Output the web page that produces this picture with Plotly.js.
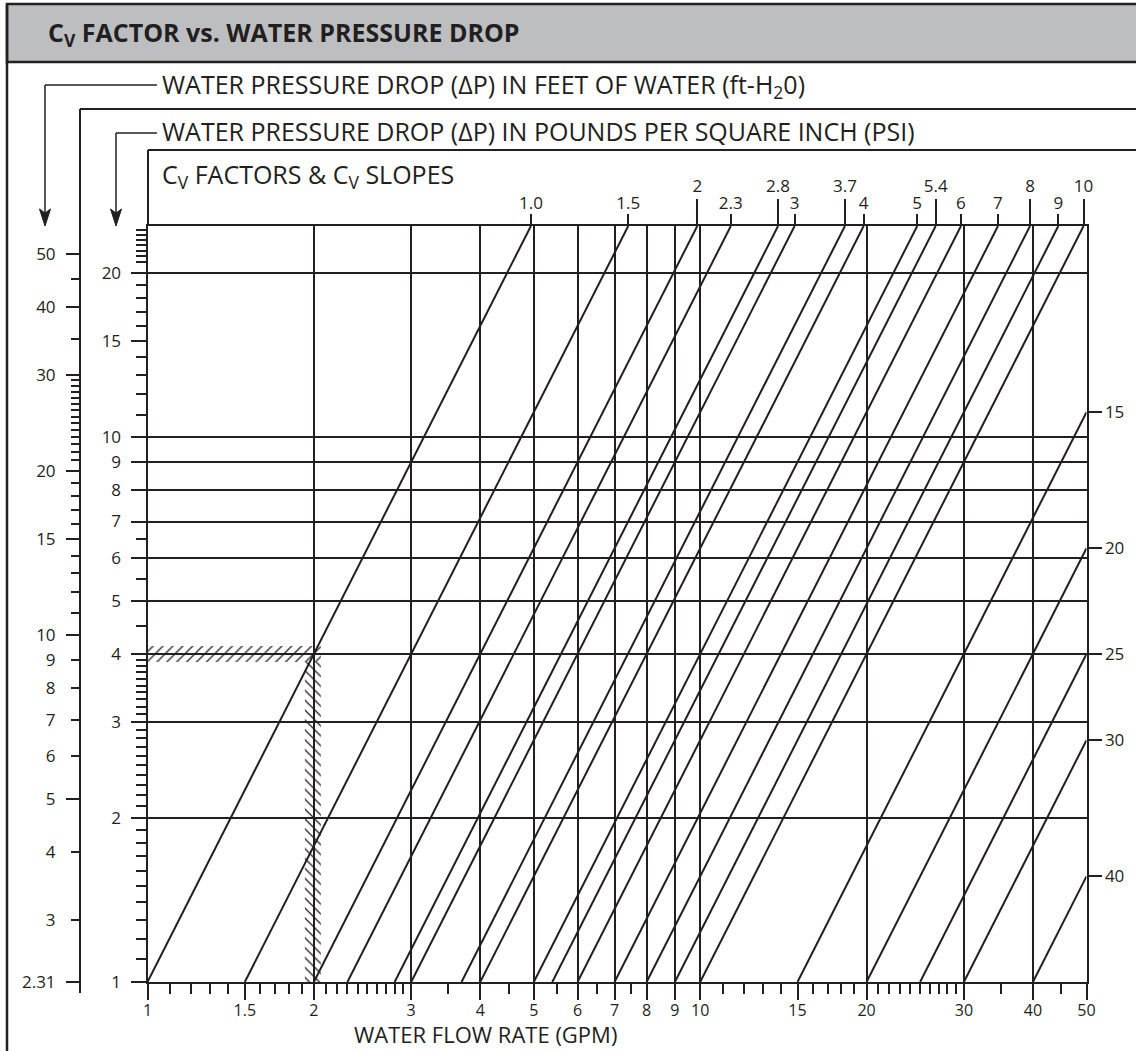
<!DOCTYPE html>
<html>
<head>
<meta charset="utf-8">
<script src="https://cdn.plot.ly/plotly-3.0.1.min.js"></script>
<style>html,body{margin:0;padding:0;background:#fff;}#chart{width:1136px;height:1051px;}</style>
</head>
<body>
<div id="chart"></div>
<script>
// ---------- data ----------
const cvValues = [1.0, 1.5, 2, 2.3, 2.8, 3, 3.7, 4, 5, 5.4, 6, 7, 8, 9, 10, 15, 20, 25, 30, 40];
const cvTopUpper = [2, 2.8, 3.7, 5.4, 8, 10];
const cvTopUpperText = ['2', '2.8', '3.7', '5.4', '8', '10'];
const cvTopLower = [1.0, 1.5, 2.3, 3, 4, 5, 6, 7, 9];
const cvTopLowerText = ['1.0', '1.5', '2.3', '3', '4', '5', '6', '7', '9'];
const cvRight = [15, 20, 25, 30, 40];
const cvRightText = ['15', '20', '25', '30', '40'];

const flowMin = 1, flowMax = 50;           // GPM
const psiMin = 1, psiMax = 24.4;           // PSI
const ftPerPsi = 2.31;

const flowTickVals = [1, 1.5, 2, 3, 4, 5, 6, 7, 8, 9, 10, 15, 20, 30, 40, 50];
const flowTickText = ['1', '1.5', '2', '3', '4', '5', '6', '7', '8', '9', '10', '15', '20', '30', '40', '50'];
const flowMinorVals = [1.1, 1.2, 1.3, 1.4, 1.6, 1.7, 1.8, 1.9, 2.1, 2.2, 2.3, 2.4, 2.5, 2.6, 2.7, 2.8, 2.9,
  3.5, 4.5, 5.5, 6.5, 7.5, 11, 12, 13, 14, 16, 17, 18, 19, 21, 22, 23, 24, 25, 26, 27, 28, 29, 35, 45];
const flowGridVals = [2, 3, 4, 5, 6, 7, 8, 9, 10, 20, 30, 40];

const psiTickVals = [1, 2, 3, 4, 5, 6, 7, 8, 9, 10, 15, 20];
const psiTickText = ['1', '2', '3', '4', '5', '6', '7', '8', '9', '10', '15', '20'];
const psiMinorVals = [1.1, 1.2, 1.3, 1.4, 1.5, 1.6, 1.7, 1.8, 1.9, 2.1, 2.2, 2.3, 2.4, 2.5, 2.6, 2.7, 2.8, 2.9,
  3.1, 3.2, 3.3, 3.4, 3.5, 3.6, 3.7, 3.8, 3.9, 4.5, 5.5, 6.5, 11, 12, 13, 14, 16, 17, 18, 19,
  21, 21.5, 22, 22.5, 23, 23.5, 24];
const psiGridVals = [2, 3, 4, 5, 6, 7, 8, 9, 10, 20];

const ftTickVals = [2.31, 3, 4, 5, 6, 7, 8, 9, 10, 15, 20, 30, 40, 50];
const ftTickText = ['2.31', '3', '4', '5', '6', '7', '8', '9', '10', '15', '20', '30', '40', '50'];
const ftLongVals = [2.31, 5, 10, 15, 20, 30, 40, 50];
const ftMinorVals = [11, 12, 13, 14, 16, 17, 18, 19, 21, 21.7, 22.4, 23.1, 23.8, 24.5, 25.2, 25.9,
  26.6, 27.3, 28, 28.7, 29.4, 35, 45];

const exampleFlow = 2;   // GPM (hatched example)
const examplePsi = 4;    // PSI

// ---------- geometry helpers ----------
const W = 1136, H = 1051;
const px = x => x / W;
const py = y => 1 - y / H;
const INK = '#231f20';
const FONT = 'Open Sans, Noto Sans, sans-serif';
const L10 = Math.log10;

const plotL = 147.5, plotR = 1086.5, plotT = 226, plotB = 982;
const xDomain = [px(plotL), px(plotR)];
const yDomain = [py(plotB), py(plotT)];
const xRange = [L10(flowMin), L10(flowMax)];
const yRange = [L10(psiMin), L10(psiMax)];
const ftRange = [L10(psiMin * ftPerPsi), L10(psiMax * ftPerPsi)];

// ---------- traces ----------
const lx = [], ly = [];
cvValues.forEach(cv => {
  let qEnd = cv * Math.sqrt(psiMax), pEnd = psiMax;
  if (qEnd > flowMax) { qEnd = flowMax; pEnd = Math.pow(flowMax / cv, 2); }
  lx.push(cv, qEnd, null);
  ly.push(psiMin, pEnd, null);
});
const traces = [];
// hatched example bands
const bandP = [examplePsi * Math.pow(10, -8 / 545), examplePsi * Math.pow(10, 8 / 545)];
const bandQ = [exampleFlow * Math.pow(10, -9 / 553), exampleFlow * Math.pow(10, 7 / 553)];
traces.push({
  x: [flowMin, bandQ[1], bandQ[1], flowMin, flowMin],
  y: [bandP[0], bandP[0], bandP[1], bandP[1], bandP[0]],
  mode: 'lines', line: {width: 0}, fill: 'toself', fillcolor: 'rgba(0,0,0,0)',
  fillpattern: {shape: '/', size: 7, solidity: 0.18, fgcolor: INK, bgcolor: 'rgba(0,0,0,0)'},
  hoverinfo: 'skip', xaxis: 'x', yaxis: 'y'
});
traces.push({
  x: [bandQ[0], bandQ[1], bandQ[1], bandQ[0], bandQ[0]],
  y: [psiMin, psiMin, bandP[0], bandP[0], psiMin],
  mode: 'lines', line: {width: 0}, fill: 'toself', fillcolor: 'rgba(0,0,0,0)',
  fillpattern: {shape: '\\', size: 7, solidity: 0.18, fgcolor: INK, bgcolor: 'rgba(0,0,0,0)'},
  hoverinfo: 'skip', xaxis: 'x', yaxis: 'y'
});
traces.push({
  x: lx, y: ly, mode: 'lines', line: {color: INK, width: 2}, connectgaps: false,
  hoverinfo: 'skip', xaxis: 'x', yaxis: 'y'
});
// invisible anchors so every overlay axis is drawn
[['x2', 'y'], ['x3', 'y'], ['x4', 'y'], ['x', 'y2'], ['x', 'y3'], ['x', 'y4'], ['x', 'y5']].forEach(p => {
  const isFt = p[1] === 'y3' || p[1] === 'y4';
  traces.push({x: [flowMin * 1.5], y: [isFt ? psiMin * ftPerPsi * 1.5 : psiMin * 1.5], mode: 'markers',
    marker: {size: 1, opacity: 0}, hoverinfo: 'skip', xaxis: p[0], yaxis: p[1]});
});

// ---------- axes ----------
const TICK_SIZE = 17;
const tickFont = (s) => ({family: FONT, size: s || TICK_SIZE, color: INK});
const base = () => ({type: 'log', showgrid: false, zeroline: false, fixedrange: true, tickfont: tickFont(),
  tickcolor: INK, tickwidth: 2, autorange: false});

const layout = {
  width: W, height: H, margin: {l: 0, r: 0, t: 0, b: 0, pad: 0},
  paper_bgcolor: '#fff', plot_bgcolor: '#fff', showlegend: false,
  font: {family: FONT, color: INK},
  xaxis: Object.assign(base(), {
    domain: xDomain, range: xRange, anchor: 'y', side: 'bottom',
    tickmode: 'array', tickvals: flowTickVals, ticktext: flowTickText, tickfont: tickFont(16),
    ticks: 'outside', ticklen: 16, ticklabelstandoff: -3,
    minor: {tickmode: 'array', tickvals: flowMinorVals, ticks: 'outside', ticklen: 10, tickwidth: 2, tickcolor: INK, showgrid: false},
    showline: true, mirror: true, linecolor: INK, linewidth: 2
  }),
  xaxis2: Object.assign(base(), {
    range: xRange, overlaying: 'x', anchor: 'y', side: 'top',
    tickmode: 'array', tickvals: cvTopUpper.map(c => c * Math.sqrt(psiMax)), ticktext: cvTopUpperText,
    ticks: 'outside', ticklen: 26, showline: false
  }),
  xaxis3: Object.assign(base(), {
    range: xRange, overlaying: 'x', anchor: 'y', side: 'top',
    tickmode: 'array', tickvals: cvTopLower.map(c => c * Math.sqrt(psiMax)), ticktext: cvTopLowerText,
    ticks: 'outside', ticklen: 11, showline: false, ticklabelstandoff: -2
  }),
  xaxis4: Object.assign(base(), {
    range: xRange, overlaying: 'x', anchor: 'y',
    tickmode: 'array', tickvals: flowGridVals, showticklabels: false, ticks: '',
    showgrid: true, gridcolor: INK, gridwidth: 2, showline: false
  }),
  yaxis: Object.assign(base(), {
    domain: yDomain, range: yRange, anchor: 'x', side: 'left',
    tickmode: 'array', tickvals: psiTickVals, ticktext: psiTickText,
    ticks: 'outside', ticklen: 15, ticklabelstandoff: 6,
    minor: {tickmode: 'array', tickvals: psiMinorVals, ticks: 'outside', ticklen: 10, tickwidth: 2, tickcolor: INK, showgrid: false},
    showline: true, mirror: true, linecolor: INK, linewidth: 2
  }),
  yaxis2: Object.assign(base(), {
    range: yRange, overlaying: 'y', anchor: 'x', side: 'right',
    tickmode: 'array', tickvals: cvRight.map(c => Math.pow(flowMax / c, 2)), ticktext: cvRightText,
    ticks: 'outside', ticklen: 14, showline: false
  }),
  yaxis3: Object.assign(base(), {
    range: ftRange, overlaying: 'y', anchor: 'free', position: px(80), side: 'left',
    tickmode: 'array', tickvals: ftTickVals, ticktext: ftTickText,
    ticks: 'outside', ticklen: 9, ticklabelstandoff: 12,
    minor: {tickmode: 'array', tickvals: ftMinorVals, ticks: 'outside', ticklen: 9, tickwidth: 2, tickcolor: INK, showgrid: false},
    showline: false
  }),
  yaxis4: Object.assign(base(), {
    range: ftRange, overlaying: 'y', anchor: 'free', position: px(80), side: 'left',
    tickmode: 'array', tickvals: ftLongVals, showticklabels: false,
    ticks: 'outside', ticklen: 14, showline: false
  }),
  yaxis5: Object.assign(base(), {
    range: yRange, overlaying: 'y', anchor: 'x',
    tickmode: 'array', tickvals: psiGridVals, showticklabels: false, ticks: '',
    showgrid: true, gridcolor: INK, gridwidth: 2, showline: false
  }),
  shapes: [],
  annotations: []
};

// frame shapes (paper coords)
const ln = (x0, y0, x1, y1, w) => ({type: 'line', xref: 'paper', yref: 'paper',
  x0: px(x0), y0: py(y0), x1: px(x1), y1: py(y1), line: {color: INK, width: w || 2}});
layout.shapes.push({type: 'rect', xref: 'paper', yref: 'paper', x0: px(7), x1: px(1140), y0: py(4), y1: py(62),
  fillcolor: '#bcbec0', line: {color: INK, width: 2.5}, layer: 'below'});
layout.shapes.push(ln(7, 4, 7, 1051, 2.5));
layout.shapes.push(ln(80, 109, 1136, 109));
layout.shapes.push(ln(80, 109, 80, 993));
layout.shapes.push(ln(148, 150, 1136, 150));
layout.shapes.push(ln(148, 150, 148, 226));
layout.shapes.push(ln(45, 85, 157, 85, 1.5));
layout.shapes.push(ln(45, 85, 45, 214, 1.5));
layout.shapes.push(ln(116, 133, 157, 133, 1.5));
layout.shapes.push(ln(116, 133, 116, 214, 1.5));
const arrowHead = (x, yTip) => ({type: 'path', xref: 'paper', yref: 'paper',
  path: `M ${px(x)} ${py(yTip)} L ${px(x - 5.5)} ${py(yTip - 17)} L ${px(x)} ${py(yTip - 13)} L ${px(x + 5.5)} ${py(yTip - 17)} Z`,
  fillcolor: INK, line: {color: INK, width: 1}});
layout.shapes.push(arrowHead(45, 226));
layout.shapes.push(arrowHead(116, 226));

// texts
const ann = (text, x, y, size, opts) => Object.assign({text: text, xref: 'paper', yref: 'paper',
  x: px(x), y: py(y), xanchor: 'left', yanchor: 'middle', showarrow: false,
  font: {family: FONT, size: size, color: INK}}, opts || {});
layout.annotations.push(ann('<b>C<sub>V</sub> FACTOR vs. WATER PRESSURE DROP</b>', 46, 34, 25));
layout.annotations.push(ann('WATER PRESSURE DROP (ΔP) IN FEET OF WATER (ft-H<sub>2</sub>0)', 160, 86, 25));
layout.annotations.push(ann('WATER PRESSURE DROP (ΔP) IN POUNDS PER SQUARE INCH (PSI)', 160, 131, 25));
layout.annotations.push(ann('C<sub>V</sub> FACTORS &amp; C<sub>V</sub> SLOPES', 160, 176, 25));
layout.annotations.push(ann('WATER FLOW RATE (GPM)', 485, 1050, 22, {xanchor: 'center', yanchor: 'bottom', borderpad: 0}));

Plotly.newPlot('chart', traces, layout, {staticPlot: true, displayModeBar: false});
</script>
</body>
</html>
